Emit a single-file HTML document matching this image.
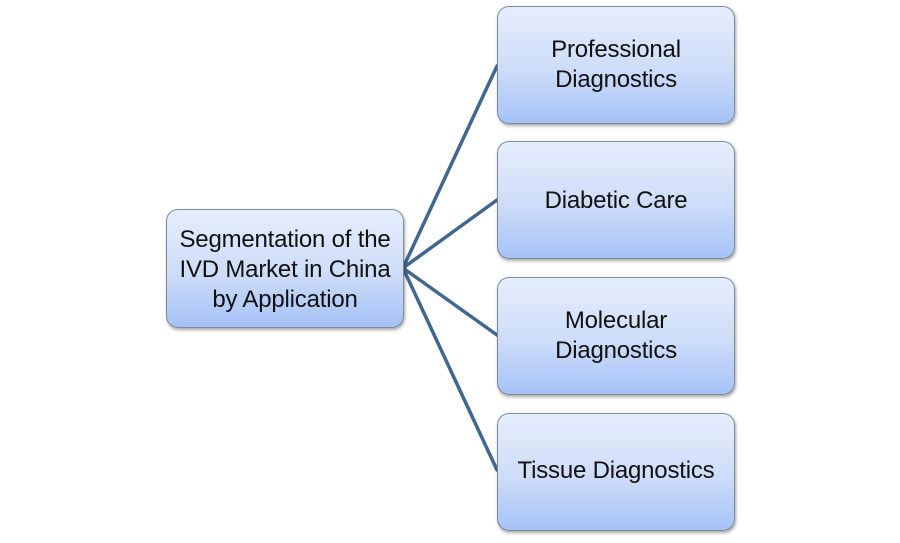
<!DOCTYPE html>
<html><head><style>
body{margin:0;width:900px;height:543px;background:#fff;position:relative;overflow:hidden;font-family:"Liberation Sans",sans-serif;}
.b{position:absolute;width:235px;height:116px;border:1px solid #7f8a99;border-radius:12px;background:linear-gradient(#e6eefc,#cddcf8 55%,#a5c2f7);box-shadow:1px 2px 3px rgba(0,0,0,0.35);display:flex;align-items:center;justify-content:center;text-align:center;font-size:24px;line-height:30px;color:#111;box-sizing:border-box;letter-spacing:-0.2px;}
svg{position:absolute;left:0;top:0}
</style></head><body>
<svg width="900" height="543"><g stroke="#41668f" stroke-width="3.5" fill="none" stroke-linecap="round">
<line x1="403" y1="268" x2="497" y2="66"/>
<line x1="403" y1="268" x2="497" y2="200"/>
<line x1="403" y1="268" x2="497" y2="335"/>
<line x1="403" y1="268" x2="497" y2="470"/>
</g></svg>
<div class="b" style="left:166px;top:209px;width:238px;height:119px;padding-top:2px">Segmentation of the<br>IVD Market in China<br>by Application</div>
<div class="b" style="left:497px;top:6px;width:238px;height:118px;padding-bottom:1px">Professional<br>Diagnostics</div>
<div class="b" style="left:497px;top:141px;width:238px;height:118px;padding-top:2px">Diabetic Care</div>
<div class="b" style="left:497px;top:277px;width:238px;height:118px;padding-bottom:1px">Molecular<br>Diagnostics</div>
<div class="b" style="left:497px;top:413px;width:238px;height:118px;padding-bottom:2px">Tissue Diagnostics</div>
</body></html>
